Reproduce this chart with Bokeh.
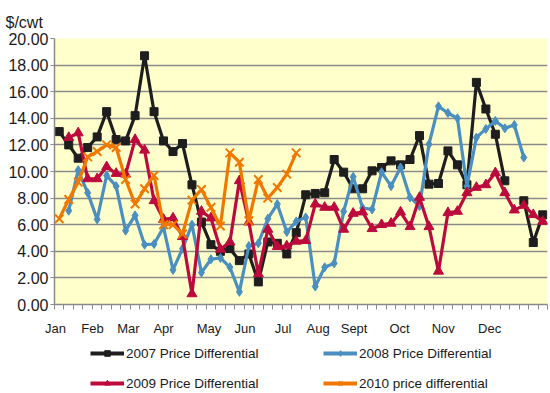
import math
from bokeh.plotting import figure
from bokeh.layouts import column
from bokeh.models import (FixedTicker, Legend, LegendItem, ColumnDataSource, Range1d,
                          NumeralTickFormatter)
from bokeh.embed import file_html
from bokeh.resources import INLINE

nan = float("nan")

weeks = list(range(52))
month_labels = ["Jan", "Feb", "Mar", "Apr", "May", "Jun", "Jul", "Aug", "Sept", "Oct", "Nov", "Dec"]
month_tick_pos = [-0.4, 3.5, 7.3, 11.0, 15.8, 19.6, 23.6, 27.3, 31.1, 35.9, 40.5, 45.4]
y_ticks = [0, 2, 4, 6, 8, 10, 12, 14, 16, 18, 20]

diff_2007 = [13.0, 12.0, 11.0, 11.8, 12.6, 14.5, 12.4, 12.3, 14.2, 18.7,
             14.5, 12.3, 11.5, 12.1, 9.0, 6.2, 4.5, 4.0, 4.2, 3.3,
             3.8, 1.7, 4.7, 4.6, 3.8, 5.4, 8.25, 8.35, 8.4, 10.9,
             9.95, 8.7, 8.7, 10.05, 10.3, 10.8, 10.5, 10.9, 12.7, 9.05,
             9.1, 11.55, 10.5, 9.0, 16.7, 14.7, 12.8, 9.3, nan, 7.8,
             4.66, 6.74]
diff_2008 = [nan, 7.05, 10.1, 8.4, 6.4, 9.7, 8.9, 5.55, 6.7, 4.5,
             4.55, 5.8, 2.6, 4.2, 6.0, 2.4, 3.4, 3.5, 2.8, 0.95,
             4.4, 4.6, 6.45, 7.55, 5.45, 6.25, 6.55, 1.35, 2.8, 3.1,
             7.0, 9.6, 7.25, 7.15, 9.95, 8.9, 10.3, 8.05, 7.4, 12.05,
             14.9, 14.4, 14.0, 8.9, 12.55, 13.2, 13.8, 13.25, 13.5, 11.05,
             nan, nan]
diff_2009 = [nan, 12.55, 12.9, 9.45, 9.45, 10.35, 9.85, 9.8, 12.4, 11.6,
             7.8, 6.4, 6.5, 5.1, 0.8, 7.0, 6.5, 4.15, 4.7, 9.3,
             6.2, 2.3, 5.65, 4.35, 4.4, 4.75, 4.8, 7.55, 7.3, 7.3,
             5.65, 6.85, 6.95, 5.7, 6.0, 6.1, 6.95, 5.85, 8.05, 5.85,
             2.5, 6.9, 7.0, 8.4, 8.8, 9.0, 9.9, 8.4, 7.1, 7.45,
             6.75, 6.25]
diff_2010 = [6.45, 7.9, 9.2, 11.1, 11.5, 12.0, 11.8, 9.4, 7.55, 8.7,
             9.7, 6.0, 6.0, 5.3, 7.85, 8.65, 7.3, 5.9, 11.4, 10.7,
             6.3, 9.4, 8.0, 8.8, 9.8, 11.4] + [nan] * 26

series_labels = ["2007 Price Differential", "2008 Price Differential",
                 "2009 Price Differential", "2010 price differential"]
series_values = [diff_2007, diff_2008, diff_2009, diff_2010]

FONT = "Liberation Sans"
GRID = "#8a8a8a"
STYLES = [
    dict(color="#1e1e1e", marker="square", size=8, mlw=1),
    dict(color="#4a8fc0", marker="diamond", size=9, mlw=1),
    dict(color="#bd0a3c", marker="triangle", size=10, mlw=1),
    dict(color="#f07800", marker="x", size=12, mlw=2),
]

p = figure(width=550, height=338, output_backend="svg", toolbar_location=None,
           x_range=Range1d(-0.5, 51.5), y_range=Range1d(0, 20),
           min_border_left=54, min_border_right=3, min_border_top=38, min_border_bottom=34)
p.background_fill_color = "#FFFFCC"
p.border_fill_color = "white"
p.outline_line_color = None

p.title.text = "$/cwt"
p.title.text_font = FONT
p.title.text_font_size = "16px"
p.title.text_font_style = "normal"
p.title.text_color = "#1a1a1a"
p.title.align = "left"
p.title.offset = -49
p.title.standoff = 16

p.xgrid.visible = False
p.ygrid.grid_line_color = GRID
p.ygrid.grid_line_width = 1.5

p.yaxis.ticker = FixedTicker(ticks=y_ticks)
p.yaxis.formatter = NumeralTickFormatter(format="0.00")
p.yaxis.axis_line_color = GRID
p.yaxis.axis_line_width = 1.5
p.yaxis.major_tick_line_color = GRID
p.yaxis.major_tick_out = 4
p.yaxis.major_tick_in = 0
p.yaxis.minor_tick_line_color = None
p.yaxis.major_label_text_font = FONT
p.yaxis.major_label_text_font_size = "16px"
p.yaxis.major_label_text_color = "#1a1a1a"
p.yaxis.major_label_standoff = 2

p.xaxis.ticker = FixedTicker(ticks=month_tick_pos, minor_ticks=[w - 0.5 for w in range(53)])
p.xaxis.major_label_overrides = {pos: lab for pos, lab in zip(month_tick_pos, month_labels)}
p.xaxis.axis_line_color = GRID
p.xaxis.axis_line_width = 1.5
p.xaxis.major_tick_line_color = None
p.xaxis.major_tick_out = 0
p.xaxis.major_tick_in = 0
p.xaxis.minor_tick_line_color = GRID
p.xaxis.minor_tick_out = 5
p.xaxis.minor_tick_in = 0
p.xaxis.major_label_text_font = FONT
p.xaxis.major_label_text_font_size = "13px"
p.xaxis.major_label_text_color = "#1a1a1a"
p.xaxis.major_label_standoff = 11

for vals, st in zip(series_values, STYLES):
    src = ColumnDataSource(dict(x=weeks, y=vals))
    p.line("x", "y", source=src, line_color=st["color"], line_width=3.2)
    p.scatter("x", "y", source=src, marker=st["marker"], size=st["size"],
              fill_color=st["color"], line_color=st["color"], line_width=st["mlw"])

# legend-only figure below the chart (its renderers hold no drawable data)
lf = figure(width=550, height=55, output_backend="svg", toolbar_location=None,
            x_range=Range1d(0, 1), y_range=Range1d(0, 1),
            x_axis_type=None, y_axis_type=None,
            min_border_left=0, min_border_right=0, min_border_top=0, min_border_bottom=0)
lf.outline_line_color = None
lf.xgrid.visible = False
lf.ygrid.visible = False
lf.background_fill_color = "white"
lf.border_fill_color = "white"

items = []
for lab, st in zip(series_labels, STYLES):
    empty = ColumnDataSource(dict(x=[nan], y=[nan]))
    r1 = lf.line("x", "y", source=empty, line_color=st["color"], line_width=4)
    r2 = lf.scatter("x", "y", source=empty, marker=st["marker"], size=7,
                    fill_color=st["color"], line_color=st["color"], line_width=st["mlw"])
    items.append(LegendItem(label=lab, renderers=[r1, r2]))


def make_legend(row_items, loc):
    lg = Legend(items=row_items, orientation="horizontal", location=loc)
    lg.label_text_font = FONT
    lg.label_text_font_size = "13.5px"
    lg.label_text_color = "#1a1a1a"
    lg.label_width = 152
    lg.label_height = 20
    lg.glyph_width = 34
    lg.glyph_height = 14
    lg.label_standoff = 2
    lg.spacing = 45
    lg.padding = 0
    lg.margin = 0
    lg.border_line_color = None
    lg.background_fill_alpha = 0
    return lg


lf.add_layout(make_legend(items[0:2], (36, 30)), "center")
lf.add_layout(make_legend(items[2:4], (36, 0)), "center")

layout = column(p, lf, spacing=0)
open("out.html", "w").write(file_html(layout, INLINE))
